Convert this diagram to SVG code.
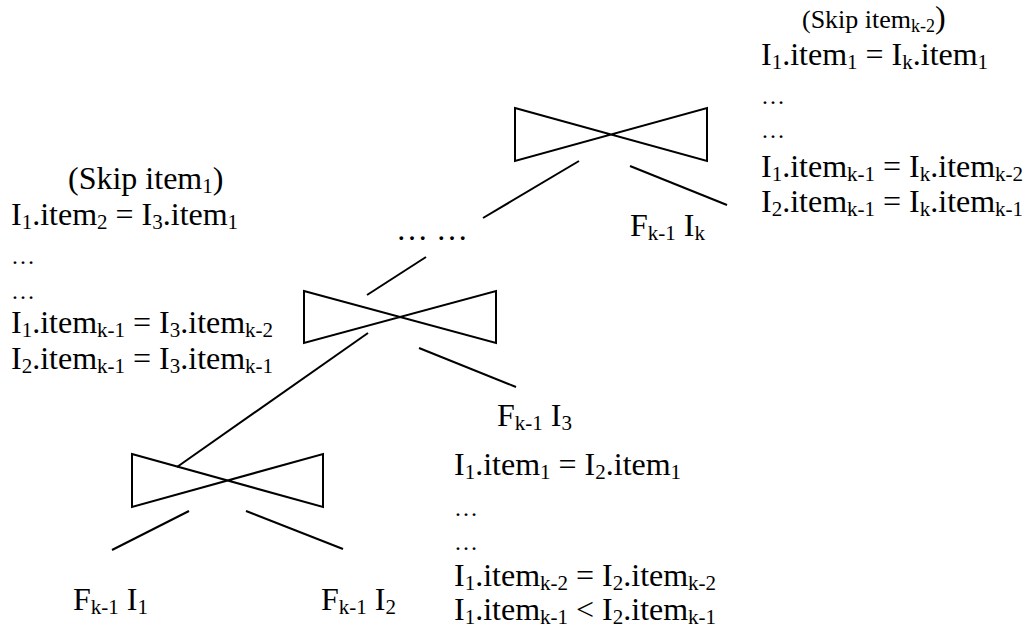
<svg xmlns="http://www.w3.org/2000/svg" width="1030" height="630" viewBox="0 0 1030 630">
<style>
.t{font-family:"Liberation Serif","Times New Roman",serif;font-size:32px;fill:#000}
.s{font-size:21px}
.sk{font-size:26px}
.sk .s{font-size:18px}
.d{font-family:"Liberation Serif","Times New Roman",serif;font-size:24px;fill:#000}
.ln{stroke:#000;stroke-width:2;fill:none}
.bt{stroke:#000;stroke-width:2;fill:none;stroke-linejoin:miter}
</style>
<rect width="1030" height="630" fill="#fff"/>
<g id="connectors">
<line class="ln" x1="579" y1="161" x2="483" y2="218"/>
<line class="ln" x1="630" y1="166" x2="727" y2="205"/>
<line class="ln" x1="426" y1="257" x2="367" y2="295"/>
<line class="ln" x1="368" y1="333" x2="177" y2="467"/>
<line class="ln" x1="419" y1="348" x2="516" y2="387"/>
<line class="ln" x1="189" y1="511" x2="112" y2="550"/>
<line class="ln" x1="246" y1="511" x2="343" y2="549"/>
</g>
<g id="join-top">
<polygon class="bt" points="515,108 707,161 707,108 515,161"/>
</g>
<g id="join-middle">
<polygon class="bt" points="304,291 496,343 496,291 304,343"/>
</g>
<g id="join-bottom">
<polygon class="bt" points="132,454 323,507 323,454 132,507"/>
</g>
<g id="ellipsis-node">
<text class="t" x="396" y="240">… …</text>
</g>
<g id="rel-Fk1-I1">
<text class="t" x="73" y="610">F<tspan class="s" dy="4">k-1</tspan><tspan dy="-4"> I</tspan><tspan class="s" dy="4">1</tspan></text>
</g>
<g id="rel-Fk1-I2">
<text class="t" x="321" y="610">F<tspan class="s" dy="4">k-1</tspan><tspan dy="-4"> I</tspan><tspan class="s" dy="4">2</tspan></text>
</g>
<g id="rel-Fk1-I3">
<text class="t" x="497" y="426">F<tspan class="s" dy="4">k-1</tspan><tspan dy="-4"> I</tspan><tspan class="s" dy="4">3</tspan></text>
</g>
<g id="rel-Fk1-Ik">
<text class="t" x="630" y="236">F<tspan class="s" dy="4">k-1</tspan><tspan dy="-4"> I</tspan><tspan class="s" dy="4">k</tspan></text>
</g>
<g id="cond-bottom">
<text class="t" x="454" y="475">I<tspan class="s" dy="4">1</tspan><tspan dy="-4">.item</tspan><tspan class="s" dy="4">1</tspan><tspan dy="-4"> = I</tspan><tspan class="s" dy="4">2</tspan><tspan dy="-4">.item</tspan><tspan class="s" dy="4">1</tspan></text>
<text class="d" x="454" y="516">…</text>
<text class="d" x="454" y="550">…</text>
<text class="t" x="454" y="586">I<tspan class="s" dy="4">1</tspan><tspan dy="-4">.item</tspan><tspan class="s" dy="4">k-2</tspan><tspan dy="-4"> = I</tspan><tspan class="s" dy="4">2</tspan><tspan dy="-4">.item</tspan><tspan class="s" dy="4">k-2</tspan></text>
<text class="t" x="454" y="620">I<tspan class="s" dy="4">1</tspan><tspan dy="-4">.item</tspan><tspan class="s" dy="4">k-1</tspan><tspan dy="-4"> &lt; I</tspan><tspan class="s" dy="4">2</tspan><tspan dy="-4">.item</tspan><tspan class="s" dy="4">k-1</tspan></text>
</g>
<g id="cond-middle">
<text class="t" x="68" y="189">(Skip item<tspan class="s" dy="4">1</tspan><tspan dy="-4">)</tspan></text>
<text class="t" x="11" y="225">I<tspan class="s" dy="4">1</tspan><tspan dy="-4">.item</tspan><tspan class="s" dy="4">2</tspan><tspan dy="-4"> = I</tspan><tspan class="s" dy="4">3</tspan><tspan dy="-4">.item</tspan><tspan class="s" dy="4">1</tspan></text>
<text class="d" x="11" y="264">…</text>
<text class="d" x="11" y="299">…</text>
<text class="t" x="11" y="333">I<tspan class="s" dy="4">1</tspan><tspan dy="-4">.item</tspan><tspan class="s" dy="4">k-1</tspan><tspan dy="-4"> = I</tspan><tspan class="s" dy="4">3</tspan><tspan dy="-4">.item</tspan><tspan class="s" dy="4">k-2</tspan></text>
<text class="t" x="11" y="369">I<tspan class="s" dy="4">2</tspan><tspan dy="-4">.item</tspan><tspan class="s" dy="4">k-1</tspan><tspan dy="-4"> = I</tspan><tspan class="s" dy="4">3</tspan><tspan dy="-4">.item</tspan><tspan class="s" dy="4">k-1</tspan></text>
</g>
<g id="cond-top">
<text class="t" x="802" y="28"><tspan class="sk">(Skip item</tspan><tspan class="sk"><tspan class="s" dy="4">k-2</tspan></tspan><tspan dy="-4">)</tspan></text>
<text class="t" x="761" y="65">I<tspan class="s" dy="4">1</tspan><tspan dy="-4">.item</tspan><tspan class="s" dy="4">1</tspan><tspan dy="-4"> = I</tspan><tspan class="s" dy="4">k</tspan><tspan dy="-4">.item</tspan><tspan class="s" dy="4">1</tspan></text>
<text class="d" x="761" y="104">…</text>
<text class="d" x="761" y="138">…</text>
<text class="t" x="761" y="177">I<tspan class="s" dy="4">1</tspan><tspan dy="-4">.item</tspan><tspan class="s" dy="4">k-1</tspan><tspan dy="-4"> = I</tspan><tspan class="s" dy="4">k</tspan><tspan dy="-4">.item</tspan><tspan class="s" dy="4">k-2</tspan></text>
<text class="t" x="761" y="212">I<tspan class="s" dy="4">2</tspan><tspan dy="-4">.item</tspan><tspan class="s" dy="4">k-1</tspan><tspan dy="-4"> = I</tspan><tspan class="s" dy="4">k</tspan><tspan dy="-4">.item</tspan><tspan class="s" dy="4">k-1</tspan></text>
</g>
</svg>
